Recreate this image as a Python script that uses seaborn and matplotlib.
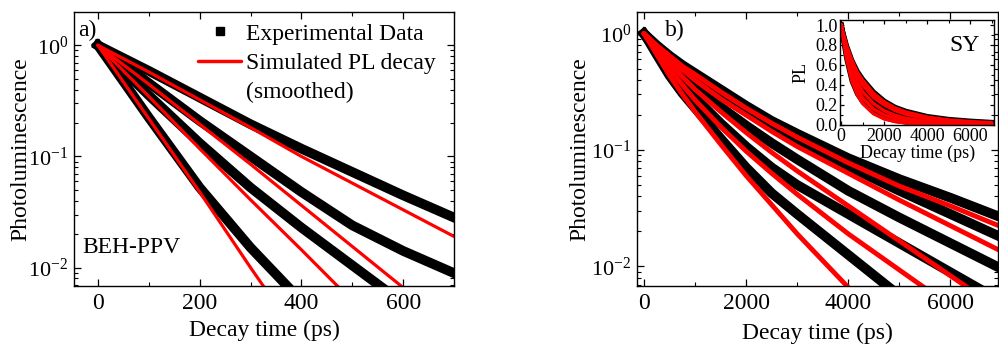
import matplotlib
matplotlib.use("Agg")
import matplotlib.pyplot as plt
import matplotlib.ticker as mticker
from matplotlib.lines import Line2D
import seaborn as sns
import numpy as np

# values, stored as log10(PL)
# panel a) BEH-PPV, time in ps
t_a = [0, 100, 200, 300, 400, 500, 600, 700]
a1_exp = [0, -0.23, -0.47, -0.71, -0.93, -1.14, -1.35, -1.55]
a1_sim = [0, -0.24, -0.49, -0.74, -1.00, -1.24, -1.48, -1.72]
a2_exp = [0, -0.34, -0.68, -1.00, -1.32, -1.62, -1.85, -2.05]
a2_sim = [0, -0.35, -0.71, -1.07, -1.44, -1.81, -2.18, -2.55]
a3_exp = [0, -0.45, -0.88, -1.28, -1.64, -1.98, -2.32, -2.60]
a3_sim = [0, -0.46, -0.93, -1.39, -1.84, -2.30, -2.76, -3.20]
a4_exp = [0, -0.65, -1.28, -1.82, -2.30, -2.75, -3.20, -3.60]
a4_sim = [0, -0.66, -1.32, -2.00, -2.66, -3.30, -3.90, -4.50]

# panel b) SY, time in ps
t_b = [0, 100, 250, 500, 750, 1000, 1500, 2000, 2500, 3000, 4000, 5000, 6000, 7000]
b1_exp = [0, -0.04, -0.10, -0.19, -0.27, -0.34, -0.48, -0.62, -0.75, -0.86, -1.07, -1.25, -1.41, -1.58]
b1_sim = [0, -0.04, -0.10, -0.19, -0.28, -0.35, -0.50, -0.64, -0.77, -0.89, -1.11, -1.31, -1.48, -1.66]
b2_exp = [0, -0.045, -0.11, -0.21, -0.30, -0.38, -0.53, -0.67, -0.80, -0.92, -1.14, -1.35, -1.55, -1.75]
b2_sim = [0, -0.045, -0.11, -0.21, -0.31, -0.40, -0.56, -0.70, -0.84, -0.97, -1.20, -1.43, -1.65, -1.87]
b3_exp = [0, -0.05, -0.12, -0.24, -0.35, -0.45, -0.63, -0.79, -0.94, -1.08, -1.35, -1.58, -1.80, -2.02]
b3_sim = [0, -0.05, -0.12, -0.25, -0.37, -0.48, -0.67, -0.85, -1.02, -1.18, -1.48, -1.78, -2.08, -2.38]
b4_exp = [0, -0.06, -0.15, -0.30, -0.43, -0.55, -0.77, -0.97, -1.15, -1.30, -1.55, -1.80, -2.05, -2.30]
b4_sim = [0, -0.06, -0.15, -0.30, -0.44, -0.57, -0.80, -1.01, -1.20, -1.38, -1.72, -2.03, -2.34, -2.65]
b5_exp = [0, -0.07, -0.18, -0.36, -0.51, -0.64, -0.90, -1.15, -1.37, -1.55, -1.90, -2.25, -2.60, -2.95]
b5_sim = [0, -0.07, -0.18, -0.36, -0.52, -0.67, -0.95, -1.22, -1.47, -1.72, -2.18, -2.64, -3.10, -3.50]

a_exp = [a1_exp, a2_exp, a3_exp, a4_exp]
a_sim = [a1_sim, a2_sim, a3_sim, a4_sim]
b_exp = [b1_exp, b2_exp, b3_exp, b4_exp, b5_exp]
b_sim = [b1_sim, b2_sim, b3_sim, b4_sim, b5_sim]

sns.set_theme(style="ticks", rc={
    'axes.edgecolor': 'black', 'text.color': 'black', 'axes.labelcolor': 'black',
    'xtick.color': 'black', 'ytick.color': 'black'})
plt.rcParams['font.family'] = ['Liberation Serif', 'DejaVu Serif']
plt.rcParams['mathtext.fontset'] = 'stix'
plt.rcParams['font.size'] = 17
plt.rcParams['axes.labelsize'] = 17
plt.rcParams['xtick.labelsize'] = 17
plt.rcParams['ytick.labelsize'] = 16


def style_axes(ax, major, minor, xpad=5, ypad=4):
    ax.xaxis.set_major_locator(mticker.MultipleLocator(major))
    ax.xaxis.set_minor_locator(mticker.MultipleLocator(minor))
    ax.tick_params(which='both', direction='in', top=True, right=True)
    ax.tick_params(which='major', length=5, width=0.9)
    ax.tick_params(which='minor', length=3, width=0.8)
    ax.tick_params(axis='x', pad=xpad)
    ax.tick_params(axis='y', pad=ypad)
    for s in ax.spines.values():
        s.set_linewidth(1.0)


def draw_pairs(ax, t, exp_list, sim_list, lw_exp, lw_sim):
    # experimental data: thick black band, simulation: red line on top
    for v in exp_list:
        sns.lineplot(x=t, y=10 ** np.array(v), ax=ax, color='black', lw=lw_exp,
                     solid_capstyle='projecting', solid_joinstyle='round')
    for v in sim_list:
        sns.lineplot(x=t, y=10 ** np.array(v), ax=ax, color='#ff0000', lw=lw_sim)


fig = plt.figure(figsize=(9.99, 3.45), dpi=100)
ax_a = fig.add_axes([0.0741, 0.171, 0.3804, 0.794])
ax_b = fig.add_axes([0.6376, 0.171, 0.3614, 0.794])

# --- panel a ---
draw_pairs(ax_a, t_a, a_exp, a_sim, 7, 2.3)
ax_a.set_yscale('log')
ax_a.set_xlim(-47, 700)
ax_a.set_ylim(0.00683, 1.99)
style_axes(ax_a, 200, 100)
ax_a.set_xlabel('Decay time (ps)')
ax_a.set_ylabel('Photoluminescence')
ax_a.xaxis.set_label_coords(0.5, -0.124)
ax_a.yaxis.set_label_coords(-0.113, 0.5)
ax_a.text(0.01, 0.934, 'a)', transform=ax_a.transAxes, va='center', ha='left')
ax_a.text(0.021, 0.142, 'BEH-PPV', transform=ax_a.transAxes, va='center', ha='left')

handles = [Line2D([], [], ls='none', marker='s', color='black', ms=6),
           Line2D([], [], color='#ff0000', lw=2.5),
           Line2D([], [], ls='none')]
ax_a.legend(handles, ['Experimental Data', 'Simulated PL decay', '(smoothed)'],
            loc='upper left', bbox_to_anchor=(0.327, 0.96), frameon=False,
            borderpad=0, borderaxespad=0, handlelength=1.8, handletextpad=0.2,
            labelspacing=0.33, fontsize=17)

# --- panel b ---
draw_pairs(ax_b, t_b, b_exp, b_sim, 7, 3.5)
ax_b.set_yscale('log')
ax_b.set_xlim(-137, 6930)
ax_b.set_ylim(0.0068, 1.53)
style_axes(ax_b, 2000, 1000)
ax_b.set_xlabel('Decay time (ps)')
ax_b.set_ylabel('Photoluminescence')
ax_b.xaxis.set_label_coords(0.5, -0.133)
ax_b.yaxis.set_label_coords(-0.128, 0.5)
ax_b.text(0.077, 0.934, 'b)', transform=ax_b.transAxes, va='center', ha='left')

# --- inset, linear scale ---
ax_in = fig.add_axes([0.841, 0.638, 0.154, 0.304])
draw_pairs(ax_in, t_b, b_exp, b_sim, 3.5, 2.5)
ax_in.set_xlim(-50, 7100)
ax_in.set_ylim(0, 1.05)
style_axes(ax_in, 2000, 1000, xpad=2, ypad=2)
ax_in.yaxis.set_major_locator(mticker.MultipleLocator(0.2))
ax_in.yaxis.set_minor_locator(mticker.MultipleLocator(0.1))
ax_in.yaxis.set_major_formatter(mticker.FormatStrFormatter('%.1f'))
ax_in.tick_params(labelsize=13, which='major', length=3)
ax_in.tick_params(which='minor', length=2)
ax_in.set_xlabel('Decay time (ps)', fontsize=13)
ax_in.set_ylabel('PL', fontsize=13)
ax_in.xaxis.set_label_coords(0.5, -0.19)
ax_in.yaxis.set_label_coords(-0.2, 0.5)
ax_in.text(0.91, 0.76, 'SY', transform=ax_in.transAxes, va='center', ha='right', fontsize=17)

fig.savefig('out.png', dpi=100)
